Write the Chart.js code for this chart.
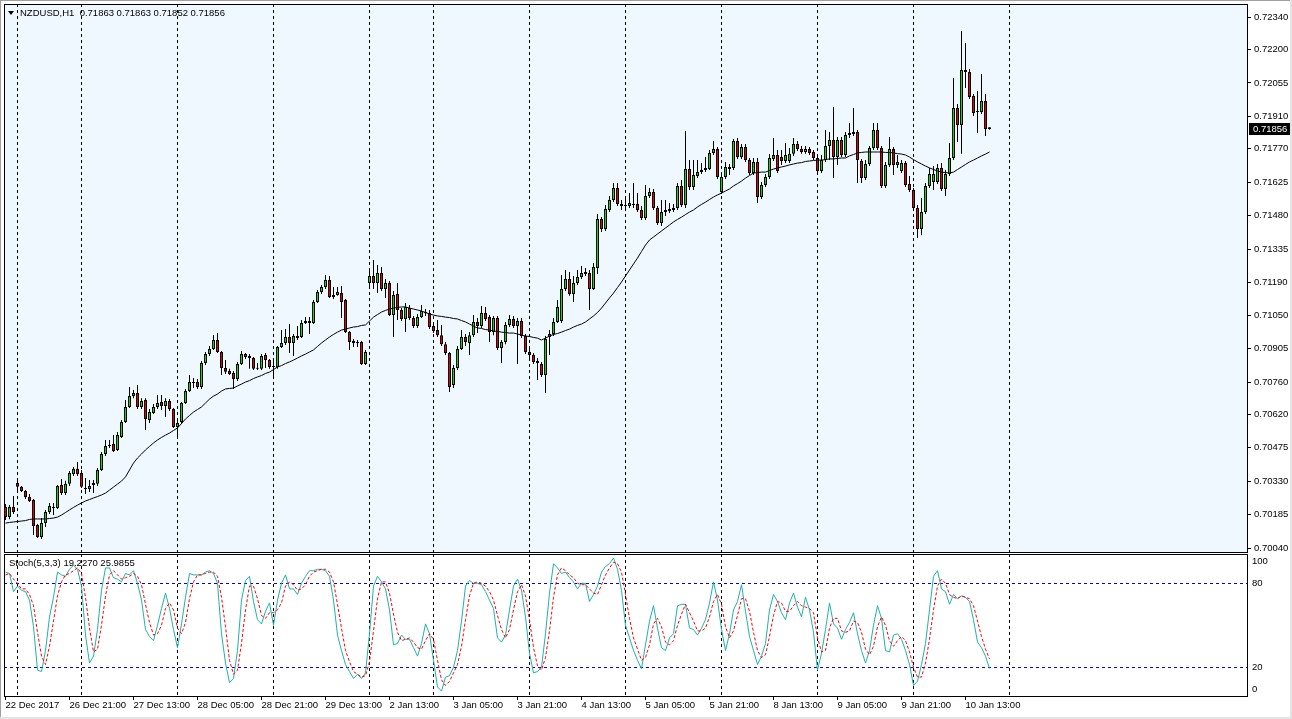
<!DOCTYPE html>
<html><head><meta charset="utf-8">
<script src="https://cdn.jsdelivr.net/npm/chart.js@4.4.1/dist/chart.umd.min.js"></script>
<style>
html,body{margin:0;padding:0;background:#fff;}
#wrap{position:relative;width:1292px;height:719px;overflow:hidden;background:#fff;}
#c1{position:absolute;left:0;top:0;}
#c2{position:absolute;left:0;top:552px;}
.lbl{position:absolute;font-family:'Liberation Sans',Arial,sans-serif;font-size:9.5px;color:#000;white-space:pre;line-height:12px;}
.edge{position:absolute;}
</style></head><body>
<div id="wrap">
<canvas id="c1" width="1292" height="570"></canvas>
<canvas id="c2" width="1292" height="167"></canvas>
<div class="edge" style="left:0;top:0;width:1292px;height:1px;background:#a0a0a0"></div>
<div class="edge" style="left:0;top:0;width:1px;height:719px;background:#a0a0a0"></div>
<div class="edge" style="left:1290px;top:0;width:2px;height:719px;background:#e4e4e4"></div>
<div class="edge" style="left:0;top:717px;width:1292px;height:2px;background:#e4e4e4"></div>
<div class="edge" style="left:8px;top:11px;width:0;height:0;border-left:3px solid transparent;border-right:3px solid transparent;border-top:4px solid #000"></div>
<div class="lbl" id="hdr" style="left:20px;top:7px;"></div>
<div class="lbl" id="stl" style="left:9px;top:557px;"></div>
</div>
<script>
const symbol = 'NZDUSD,H1';
const openP = [0.70219,0.70176,0.70219,0.70323,0.70306,0.70288,0.70262,0.70249,0.70141,0.70089,
0.70150,0.70197,0.70214,0.70214,0.70314,0.70279,0.70319,0.70362,0.70384,0.70366,
0.70297,0.70297,0.70314,0.70319,0.70379,0.70448,0.70483,0.70492,0.70466,0.70522,
0.70587,0.70652,0.70699,0.70712,0.70652,0.70682,0.70595,0.70626,0.70652,0.70673,
0.70656,0.70678,0.70643,0.70565,0.70587,0.70669,0.70721,0.70756,0.70760,0.70738,
0.70842,0.70881,0.70903,0.70942,0.70890,0.70821,0.70808,0.70799,0.70773,0.70838,
0.70881,0.70873,0.70864,0.70821,0.70817,0.70877,0.70855,0.70825,0.70825,0.70912,
0.70929,0.70955,0.70929,0.70951,0.70955,0.71016,0.71024,0.71016,0.71106,0.71150,
0.71171,0.71202,0.71128,0.71137,0.71145,0.71115,0.70976,0.70938,0.70933,0.70933,
0.70838,0.71189,0.71219,0.71189,0.71232,0.71163,0.71189,0.71050,0.71141,0.71072,
0.71033,0.71080,0.71037,0.71003,0.71042,0.71059,0.71059,0.71003,0.70985,0.70963,
0.70924,0.70886,0.70747,0.70821,0.70903,0.70955,0.70929,0.70963,0.71020,0.71003,
0.71059,0.71042,0.70976,0.71037,0.70907,0.70933,0.71007,0.71033,0.71003,0.71024,
0.70959,0.70890,0.70877,0.70851,0.70838,0.70790,0.70955,0.70968,0.71020,0.71024,
0.71163,0.71206,0.71141,0.71189,0.71215,0.71228,0.71232,0.71163,0.71254,0.71466,
0.71422,0.71505,0.71548,0.71600,0.71531,0.71522,0.71522,0.71531,0.71531,0.71505,
0.71470,0.71565,0.71583,0.71513,0.71448,0.71496,0.71500,0.71505,0.71513,0.71609,
0.71526,0.71682,0.71604,0.71652,0.71669,0.71678,0.71682,0.71752,0.71769,0.71583,
0.71648,0.71691,0.71687,0.71804,0.71734,0.71778,0.71721,0.71665,0.71713,0.71561,
0.71613,0.71648,0.71726,0.71743,0.71734,0.71717,0.71717,0.71748,0.71791,0.71769,
0.71756,0.71769,0.71756,0.71730,0.71674,0.71721,0.71782,0.71808,0.71734,0.71808,
0.71743,0.71830,0.71834,0.71843,0.71717,0.71643,0.71704,0.71773,0.71851,0.71773,
0.71609,0.71700,0.71769,0.71700,0.71674,0.71708,0.71617,0.71591,0.71513,0.71422,
0.71496,0.71609,0.71626,0.71626,0.71687,0.71596,0.71661,0.71730,0.71946,0.71873,
0.72111,0.72102,0.71998,0.71929,0.71929,0.71977,0.71863];
const highP = [0.70232,0.70227,0.70266,0.70332,0.70310,0.70292,0.70275,0.70253,0.70145,0.70171,
0.70206,0.70236,0.70236,0.70314,0.70340,0.70332,0.70375,0.70392,0.70414,0.70379,
0.70344,0.70336,0.70336,0.70388,0.70457,0.70509,0.70509,0.70531,0.70544,0.70595,
0.70682,0.70738,0.70725,0.70747,0.70690,0.70690,0.70643,0.70665,0.70704,0.70704,
0.70690,0.70686,0.70647,0.70595,0.70673,0.70730,0.70790,0.70777,0.70773,0.70851,
0.70890,0.70916,0.70964,0.70972,0.70894,0.70855,0.70817,0.70808,0.70847,0.70894,
0.70886,0.70881,0.70868,0.70842,0.70881,0.70886,0.70860,0.70864,0.70916,0.70985,
0.70990,0.71011,0.70968,0.71003,0.71028,0.71042,0.71042,0.71115,0.71158,0.71180,
0.71223,0.71219,0.71171,0.71171,0.71176,0.71119,0.70981,0.70946,0.70942,0.70938,
0.70899,0.71254,0.71288,0.71267,0.71258,0.71206,0.71197,0.71154,0.71189,0.71080,
0.71102,0.71093,0.71046,0.71054,0.71093,0.71076,0.71072,0.71016,0.71028,0.71007,
0.70933,0.70890,0.70834,0.70916,0.70985,0.70968,0.70976,0.71050,0.71037,0.71089,
0.71085,0.71050,0.71046,0.71046,0.70942,0.71020,0.71050,0.71046,0.71037,0.71037,
0.70968,0.70903,0.70886,0.70864,0.70847,0.70959,0.70985,0.71037,0.71115,0.71223,
0.71245,0.71236,0.71219,0.71245,0.71262,0.71254,0.71245,0.71275,0.71487,0.71474,
0.71526,0.71565,0.71622,0.71622,0.71548,0.71552,0.71578,0.71622,0.71578,0.71522,
0.71613,0.71600,0.71596,0.71522,0.71548,0.71548,0.71535,0.71531,0.71622,0.71635,
0.71847,0.71721,0.71721,0.71721,0.71708,0.71734,0.71765,0.71804,0.71778,0.71669,
0.71713,0.71704,0.71812,0.71817,0.71791,0.71791,0.71730,0.71730,0.71730,0.71626,
0.71661,0.71747,0.71817,0.71765,0.71765,0.71795,0.71773,0.71817,0.71804,0.71782,
0.71782,0.71778,0.71765,0.71739,0.71743,0.71851,0.71843,0.71951,0.71821,0.71821,
0.71843,0.71881,0.71946,0.71851,0.71726,0.71721,0.71782,0.71881,0.71881,0.71782,
0.71713,0.71821,0.71778,0.71743,0.71721,0.71717,0.71652,0.71600,0.71526,0.71557,
0.71622,0.71687,0.71695,0.71704,0.71708,0.71678,0.71795,0.72076,0.71964,0.72280,
0.72228,0.72115,0.72007,0.72020,0.72094,0.72007,0.71863];
const lowP = [0.70162,0.70166,0.70189,0.70292,0.70284,0.70253,0.70240,0.70098,0.70085,0.70080,
0.70132,0.70189,0.70184,0.70210,0.70271,0.70271,0.70310,0.70353,0.70353,0.70301,
0.70275,0.70284,0.70279,0.70310,0.70375,0.70440,0.70474,0.70457,0.70461,0.70518,
0.70582,0.70647,0.70690,0.70643,0.70643,0.70552,0.70582,0.70621,0.70643,0.70639,
0.70608,0.70634,0.70561,0.70522,0.70578,0.70665,0.70717,0.70734,0.70730,0.70730,
0.70834,0.70873,0.70899,0.70886,0.70790,0.70795,0.70790,0.70730,0.70764,0.70834,
0.70860,0.70817,0.70812,0.70812,0.70812,0.70821,0.70817,0.70777,0.70817,0.70907,
0.70920,0.70886,0.70873,0.70942,0.70951,0.71011,0.70968,0.71011,0.71102,0.71141,
0.71163,0.71124,0.71119,0.71133,0.71037,0.70972,0.70899,0.70912,0.70912,0.70834,
0.70834,0.71171,0.71163,0.71145,0.71154,0.71124,0.71046,0.70955,0.71028,0.71024,
0.70976,0.71028,0.70994,0.70994,0.71037,0.71046,0.70990,0.70972,0.70955,0.70916,
0.70877,0.70717,0.70734,0.70812,0.70899,0.70916,0.70877,0.70955,0.70972,0.70994,
0.71024,0.70933,0.70963,0.70899,0.70842,0.70924,0.70998,0.70994,0.70838,0.70951,
0.70881,0.70864,0.70838,0.70769,0.70782,0.70712,0.70877,0.70959,0.71016,0.71016,
0.71154,0.71133,0.71106,0.71180,0.71206,0.71219,0.71072,0.71158,0.71228,0.71409,
0.71414,0.71496,0.71539,0.71522,0.71505,0.71513,0.71513,0.71513,0.71496,0.71461,
0.71461,0.71557,0.71505,0.71440,0.71435,0.71479,0.71492,0.71496,0.71505,0.71518,
0.71513,0.71591,0.71591,0.71643,0.71661,0.71669,0.71678,0.71743,0.71639,0.71574,
0.71639,0.71656,0.71678,0.71726,0.71726,0.71713,0.71656,0.71656,0.71535,0.71552,
0.71604,0.71639,0.71717,0.71665,0.71700,0.71708,0.71708,0.71739,0.71760,0.71748,
0.71748,0.71743,0.71721,0.71665,0.71665,0.71713,0.71721,0.71643,0.71700,0.71734,
0.71734,0.71817,0.71825,0.71622,0.71622,0.71635,0.71695,0.71765,0.71765,0.71600,
0.71600,0.71691,0.71656,0.71687,0.71665,0.71604,0.71583,0.71505,0.71384,0.71396,
0.71487,0.71600,0.71591,0.71617,0.71587,0.71565,0.71652,0.71721,0.71799,0.71748,
0.72033,0.71985,0.71912,0.71838,0.71920,0.71825,0.71852];
const closeP = [0.70176,0.70219,0.70197,0.70306,0.70288,0.70262,0.70245,0.70137,0.70089,0.70150,
0.70197,0.70223,0.70219,0.70310,0.70279,0.70319,0.70366,0.70384,0.70362,0.70306,
0.70301,0.70310,0.70323,0.70379,0.70448,0.70483,0.70487,0.70461,0.70531,0.70587,
0.70652,0.70699,0.70712,0.70652,0.70678,0.70600,0.70630,0.70652,0.70669,0.70656,
0.70678,0.70643,0.70565,0.70582,0.70669,0.70721,0.70760,0.70760,0.70738,0.70842,
0.70881,0.70903,0.70942,0.70890,0.70821,0.70804,0.70795,0.70773,0.70838,0.70881,
0.70868,0.70864,0.70817,0.70817,0.70873,0.70855,0.70825,0.70829,0.70912,0.70929,
0.70955,0.70929,0.70959,0.70959,0.71016,0.71024,0.71016,0.71106,0.71150,0.71171,
0.71202,0.71128,0.71137,0.71150,0.71106,0.70976,0.70933,0.70929,0.70929,0.70838,
0.70890,0.71219,0.71189,0.71232,0.71163,0.71189,0.71050,0.71137,0.71072,0.71033,
0.71085,0.71037,0.71003,0.71042,0.71067,0.71063,0.70998,0.70981,0.70963,0.70924,
0.70886,0.70738,0.70821,0.70903,0.70955,0.70933,0.70963,0.71020,0.71003,0.71059,
0.71033,0.70976,0.71037,0.70907,0.70933,0.71007,0.71033,0.71003,0.71024,0.70959,
0.70890,0.70877,0.70847,0.70842,0.70790,0.70946,0.70968,0.71020,0.71085,0.71163,
0.71206,0.71141,0.71189,0.71215,0.71232,0.71236,0.71163,0.71258,0.71466,0.71422,
0.71509,0.71548,0.71600,0.71531,0.71522,0.71526,0.71535,0.71526,0.71505,0.71470,
0.71565,0.71583,0.71513,0.71448,0.71496,0.71505,0.71509,0.71513,0.71609,0.71526,
0.71682,0.71604,0.71656,0.71669,0.71678,0.71687,0.71752,0.71769,0.71648,0.71648,
0.71691,0.71682,0.71804,0.71734,0.71778,0.71721,0.71665,0.71713,0.71561,0.71613,
0.71648,0.71730,0.71743,0.71674,0.71717,0.71743,0.71748,0.71791,0.71769,0.71756,
0.71769,0.71752,0.71730,0.71674,0.71721,0.71782,0.71808,0.71734,0.71808,0.71743,
0.71830,0.71838,0.71843,0.71721,0.71643,0.71704,0.71773,0.71851,0.71773,0.71609,
0.71700,0.71769,0.71700,0.71713,0.71708,0.71613,0.71591,0.71513,0.71422,0.71496,
0.71609,0.71661,0.71661,0.71687,0.71596,0.71661,0.71730,0.71946,0.71873,0.72111,
0.72102,0.71994,0.71925,0.71929,0.71977,0.71855,0.71856];
const maP = [0.70149,0.70152,0.70154,0.70156,0.70158,0.70160,0.70165,0.70167,0.70167,0.70167,
0.70167,0.70169,0.70171,0.70175,0.70184,0.70195,0.70206,0.70217,0.70227,0.70236,
0.70245,0.70251,0.70258,0.70264,0.70271,0.70279,0.70292,0.70305,0.70318,0.70331,
0.70349,0.70379,0.70409,0.70431,0.70448,0.70466,0.70481,0.70496,0.70509,0.70520,
0.70530,0.70539,0.70550,0.70561,0.70580,0.70600,0.70615,0.70630,0.70641,0.70652,
0.70669,0.70686,0.70699,0.70708,0.70721,0.70730,0.70732,0.70734,0.70743,0.70751,
0.70760,0.70766,0.70775,0.70782,0.70788,0.70797,0.70803,0.70814,0.70825,0.70831,
0.70840,0.70847,0.70855,0.70864,0.70873,0.70881,0.70890,0.70899,0.70914,0.70929,
0.70942,0.70955,0.70966,0.70976,0.70985,0.70989,0.70994,0.70998,0.71000,0.71005,
0.71007,0.71024,0.71041,0.71052,0.71063,0.71070,0.71076,0.71080,0.71083,0.71085,
0.71085,0.71080,0.71076,0.71072,0.71067,0.71061,0.71054,0.71050,0.71046,0.71044,
0.71041,0.71039,0.71035,0.71033,0.71026,0.71020,0.71011,0.71002,0.70994,0.70992,
0.70987,0.70985,0.70981,0.70979,0.70976,0.70974,0.70972,0.70972,0.70968,0.70963,
0.70959,0.70957,0.70953,0.70950,0.70942,0.70950,0.70959,0.70966,0.70970,0.70976,
0.70983,0.70989,0.70998,0.71005,0.71011,0.71020,0.71033,0.71046,0.71061,0.71080,
0.71102,0.71124,0.71145,0.71169,0.71193,0.71219,0.71245,0.71271,0.71297,0.71325,
0.71353,0.71375,0.71388,0.71401,0.71414,0.71427,0.71440,0.71453,0.71464,0.71474,
0.71485,0.71496,0.71505,0.71518,0.71529,0.71539,0.71550,0.71561,0.71570,0.71578,
0.71587,0.71596,0.71609,0.71619,0.71630,0.71643,0.71654,0.71665,0.71667,0.71669,
0.71669,0.71676,0.71682,0.71687,0.71691,0.71695,0.71700,0.71704,0.71708,0.71710,
0.71715,0.71717,0.71719,0.71721,0.71721,0.71723,0.71726,0.71726,0.71728,0.71730,
0.71730,0.71739,0.71745,0.71752,0.71754,0.71756,0.71756,0.71756,0.71756,0.71756,
0.71754,0.71754,0.71752,0.71749,0.71747,0.71743,0.71734,0.71723,0.71713,0.71704,
0.71695,0.71687,0.71680,0.71674,0.71669,0.71667,0.71665,0.71669,0.71680,0.71691,
0.71702,0.71713,0.71721,0.71730,0.71739,0.71747,0.71756];
const stochK = [88,87,74,78,75,74,68,49,18,17,
32,56,70,88,86,85,90,93,90,78,
43,23,28,47,75,91,91,84,83,81,
87,86,89,80,68,47,42,39,50,62,
73,62,47,34,51,70,87,86,86,86,
88,89,87,80,44,23,9,12,32,68,
82,85,67,54,51,60,66,50,68,80,
86,76,76,72,80,85,89,89,90,90,
89,85,68,43,32,22,17,12,15,12,
16,44,78,85,81,76,61,36,37,43,
40,40,34,28,37,51,44,25,6,3,
13,14,20,32,53,78,82,80,80,79,
74,68,62,41,38,43,61,78,83,75,
56,30,16,17,20,44,73,94,91,87,
88,84,81,76,80,80,67,72,78,88,
92,94,98,90,75,50,41,32,25,19,
36,53,64,48,34,32,41,44,64,65,
65,48,47,43,48,54,66,81,68,47,
32,44,61,67,79,60,42,32,22,28,
37,61,72,67,59,54,66,73,63,56,
70,61,45,18,30,47,66,51,48,40,
47,52,59,44,32,23,32,50,64,55,
32,31,43,44,40,32,22,7,10,22,
37,61,85,89,76,74,65,72,69,71,
70,67,54,38,34,28,19.2270];
const stochD = [86,87,83,80,76,76,72,64,45,28,
22,35,53,71,81,86,87,89,91,87,
70,48,31,33,50,71,86,89,86,83,
84,85,87,85,79,65,52,43,44,50,
62,66,61,48,44,52,69,81,86,86,
87,88,88,85,70,49,25,15,18,37,
61,78,78,69,57,55,59,59,61,66,
78,81,79,75,76,79,85,88,89,90,
90,88,81,65,48,32,24,17,15,13,
14,24,46,69,81,81,73,58,45,39,
40,41,38,34,33,39,44,40,25,11,
7,10,16,22,35,54,71,80,81,80,
78,74,68,57,47,41,47,61,74,79,
71,54,34,21,18,27,46,70,86,91,
89,86,84,80,79,79,76,73,72,79,
86,91,95,94,88,72,55,41,33,25,
27,36,51,55,49,38,36,39,50,58,
65,59,53,46,46,48,56,67,72,65,
49,41,46,57,69,69,60,45,32,27,
29,42,57,67,66,60,60,64,67,64,
63,62,59,41,31,32,48,55,55,46,
45,46,53,52,45,33,29,35,49,56,
50,39,35,39,42,39,31,20,13,13,
23,40,61,78,83,80,72,70,69,71,
70,69,64,53,42,33,25.9855];
const priceTicks = [0.70040,0.70185,0.70330,0.70475,0.70620,0.70760,0.70905,0.71050,0.71190,0.71335,0.71480,0.71625,0.71770,0.71910,0.72055,0.72200,0.72340];
const timeLabels = ['22 Dec 2017','26 Dec 21:00','27 Dec 13:00','28 Dec 05:00','28 Dec 21:00','29 Dec 13:00','2 Jan 13:00','3 Jan 05:00','3 Jan 21:00','4 Jan 13:00','5 Jan 05:00','5 Jan 21:00','8 Jan 13:00','9 Jan 05:00','9 Jan 21:00','10 Jan 13:00'];
const timeLabelBars = [0,16,32,48,64,80,96,112,128,144,160,176,192,208,224,240];
const daySeparatorBars = [3,19,43,67,91,107,131,155,179,203,227,251];
const stochLevels = [20,80];
const stochTickLabels = ['0','20','80','100'];
const stochTickPos = [4.5,20,80,95.4];

const UP = '#00E400', DOWN = '#E80000';
const FONT = {family:"'Liberation Sans', Arial, sans-serif", size:9.5};
const XMIN = -0.375, XMAX = 310.625;
const last = closeP.length - 1;
const idx = closeP.map((_, i) => i);

document.getElementById('hdr').textContent = symbol + '  ' + [openP[last], highP[last], lowP[last], closeP[last]].map(v => v.toFixed(5)).join(' ');
document.getElementById('stl').textContent = 'Stoch(5,3,3) ' + stochK[last].toFixed(4) + ' ' + stochD[last].toFixed(4);

function noPad(s) { s.paddingTop = 0; s.paddingBottom = 0; s.paddingLeft = 0; s.paddingRight = 0; }
function framePlugin(bg) {
  return {
    id: 'frame',
    beforeDraw(chart) {
      const {ctx, chartArea: a} = chart;
      ctx.save(); ctx.fillStyle = bg; ctx.fillRect(a.left, a.top, a.right - a.left, a.bottom - a.top); ctx.restore();
    },
    afterDraw(chart) {
      const {ctx, chartArea: a} = chart;
      ctx.save(); ctx.strokeStyle = '#000'; ctx.lineWidth = 1;
      ctx.strokeRect(a.left + 0.5, a.top + 0.5, a.right - a.left - 1, a.bottom - a.top - 1);
      ctx.restore();
    }
  };
}
const priceTag = {
  id: 'priceTag',
  afterDraw(chart) {
    const {ctx} = chart; const y = Math.round(chart.scales.y.getPixelForValue(closeP[last]));
    ctx.save(); ctx.fillStyle = '#000'; ctx.fillRect(1249, y - 6, 42, 12);
    ctx.fillStyle = '#fff'; ctx.font = "9.5px 'Liberation Sans', Arial, sans-serif"; ctx.textBaseline = 'middle';
    ctx.fillText(closeP[last].toFixed(5), 1253, y + 0.5); ctx.restore();
  }
};

new Chart(document.getElementById('c1'), {
  type: 'bar',
  data: { datasets: [
    { type: 'line', label: 'MA', data: idx.map(i => ({x: i, y: maP[i]})), borderColor: '#000', borderWidth: 1, pointRadius: 0, tension: 0, order: 0 },
    { label: 'body', data: idx.map(i => ({x: i, y: [openP[i], closeP[i]]})), backgroundColor: idx.map(i => closeP[i] >= openP[i] ? UP : DOWN),
      borderColor: '#000', borderWidth: 1, borderSkipped: false, barThickness: 3, grouped: false, minBarLength: 1, inflateAmount: 0, order: 1 },
    { label: 'wick', data: idx.map(i => ({x: i, y: [lowP[i], highP[i]]})), backgroundColor: '#000', borderWidth: 0, barThickness: 1, grouped: false, inflateAmount: 0, order: 2 }
  ]},
  options: {
    responsive: false, animation: false, devicePixelRatio: 1, events: [],
    layout: { padding: { left: 4, top: 4, right: 0, bottom: 17 } },
    plugins: { legend: { display: false }, tooltip: { enabled: false } },
    scales: {
      x: { type: 'linear', min: XMIN, max: XMAX, offset: false,
        afterBuildTicks: s => { s.ticks = daySeparatorBars.map(v => ({value: v})); },
        afterFit: s => { s.height = 0; noPad(s); },
        ticks: { display: false },
        grid: { color: '#000', lineWidth: 1, drawTicks: false, offset: false },
        border: { display: false, dash: [3, 3] } },
      y: { type: 'linear', position: 'right', min: 0.7001961, max: 0.7239678,
        afterBuildTicks: s => { s.ticks = priceTicks.map(v => ({value: v})); },
        afterFit: s => { s.width = 44; noPad(s); },
        ticks: { callback: v => Number(v).toFixed(5), font: FONT, color: '#000', padding: 3, autoSkip: false },
        grid: { drawOnChartArea: false, drawTicks: true, tickLength: 3, tickColor: '#000' },
        border: { display: false } }
    }
  },
  plugins: [framePlugin('#F0F8FF'), priceTag]
});

new Chart(document.getElementById('c2'), {
  type: 'line',
  data: { datasets: [
    { label: 'Signal', data: idx.map(i => ({x: i, y: stochD[i]})), borderColor: '#FF0000', borderWidth: 1, borderDash: [3, 2], pointRadius: 0, tension: 0, order: 0 },
    { label: 'Main', data: idx.map(i => ({x: i, y: stochK[i]})), borderColor: '#20B2AA', borderWidth: 1, pointRadius: 0, tension: 0, order: 1 }
  ]},
  options: {
    responsive: false, animation: false, devicePixelRatio: 1, events: [],
    layout: { padding: { left: 4, top: 2, right: 0, bottom: 0 } },
    plugins: { legend: { display: false }, tooltip: { enabled: false } },
    scales: {
      x: { type: 'linear', position: 'bottom', min: XMIN, max: XMAX, offset: false,
        afterBuildTicks: s => { s.ticks = timeLabelBars.map(v => ({value: v})); },
        afterFit: s => { s.height = 22; noPad(s); },
        ticks: { callback: (v, i) => timeLabels[i], align: 'start', maxRotation: 0, autoSkip: false, padding: 0, font: FONT, color: '#000' },
        grid: { drawOnChartArea: false, drawTicks: true, tickLength: 3, tickColor: '#000', offset: false },
        border: { display: false } },
      xs: { axis: 'x', type: 'linear', position: 'bottom', min: XMIN, max: XMAX, offset: false,
        afterBuildTicks: s => { s.ticks = daySeparatorBars.map(v => ({value: v})); },
        afterFit: s => { s.height = 0; noPad(s); },
        ticks: { display: false },
        grid: { color: '#000', lineWidth: 1, drawTicks: false, offset: false },
        border: { display: false, dash: [3, 3] } },
      y: { type: 'linear', position: 'right', min: -1.21, max: 100.93,
        afterBuildTicks: s => { s.ticks = stochTickPos.map(v => ({value: v})); },
        afterFit: s => { s.width = 44; noPad(s); },
        ticks: { callback: (v, i) => stochTickLabels[i], font: FONT, color: '#000', padding: 4, autoSkip: false },
        grid: { drawTicks: false, color: c => stochLevels.includes(c.tick && c.tick.value) ? '#0000E0' : 'rgba(0,0,0,0)' },
        border: { display: false, dash: [3, 3] } }
    }
  },
  plugins: [framePlugin('#FFFFFF')]
});
</script>
</body></html>
